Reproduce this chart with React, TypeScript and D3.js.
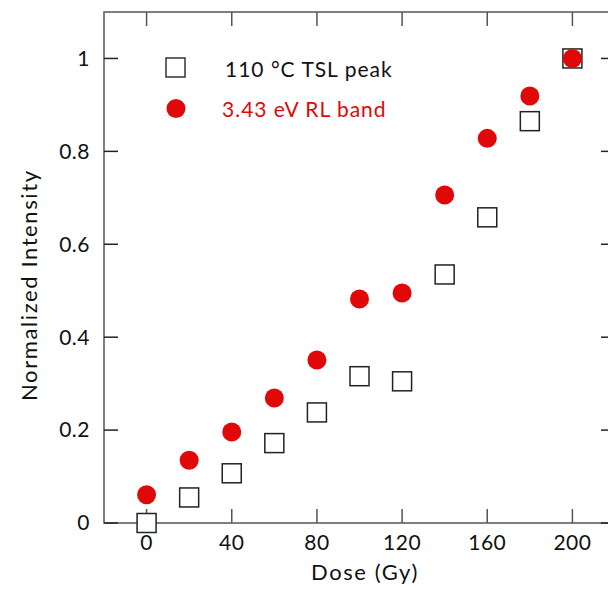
import { useRef, useEffect } from "react";
import * as d3 from "d3";

// dose values (Gy)
const doses = [0, 20, 40, 60, 80, 100, 120, 140, 160, 180, 200];
// 110 °C TSL peak, normalized
const tslPeak = [0, 0.055, 0.107, 0.172, 0.238, 0.316, 0.305, 0.535, 0.658, 0.865, 1.0];
// 3.43 eV RL band, normalized
const rlBand = [0.061, 0.135, 0.196, 0.269, 0.351, 0.482, 0.495, 0.706, 0.828, 0.919, 1.0];

const xTicks = [0, 40, 80, 120, 160, 200];
const yTicks = [0, 0.2, 0.4, 0.6, 0.8, 1];
const yTickLabels = ["0", "0.2", "0.4", "0.6", "0.8", "1"];

const RED = "#e00808";
const FONT = "Lato, 'Noto Sans', sans-serif";

function drawChart(svgEl: SVGSVGElement) {
  const width = 608,
    height = 589;
  const margin = { left: 104, right: -7, top: 12, bottom: 66 };

  const svg = d3.select(svgEl);
  svg.selectAll("*").remove();
  svg.attr("width", width).attr("height", height).attr("viewBox", `0 0 ${width} ${height}`);

  const x = d3.scaleLinear().domain([-20, 220]).range([margin.left, width - margin.right]);
  const y = d3.scaleLinear().domain([0, 1.1]).range([height - margin.bottom, margin.top]);

  const axisColor = "#555";
  const tickLen = 14;
  const g = svg.append("g");

  // frame
  g.append("rect")
    .attr("x", x(-20))
    .attr("y", y(1.1))
    .attr("width", x(220) - x(-20))
    .attr("height", y(0) - y(1.1))
    .attr("fill", "none")
    .attr("stroke", axisColor)
    .attr("stroke-width", 1.5);

  // x ticks, bottom and top, pointing inward
  xTicks.forEach((t) => {
    g.append("line")
      .attr("x1", x(t)).attr("x2", x(t))
      .attr("y1", y(0)).attr("y2", y(0) - tickLen)
      .attr("stroke", axisColor).attr("stroke-width", 1.5);
    g.append("line")
      .attr("x1", x(t)).attr("x2", x(t))
      .attr("y1", y(1.1)).attr("y2", y(1.1) + tickLen)
      .attr("stroke", axisColor).attr("stroke-width", 1.5);
    g.append("text")
      .attr("x", x(t))
      .attr("y", y(0) + 27)
      .attr("text-anchor", "middle")
      .attr("font-family", FONT)
      .attr("font-size", 21)
      .attr("letter-spacing", 0.5)
      .attr("fill", "#111")
      .text(t);
  });

  // y ticks, left and right
  yTicks.forEach((t, i) => {
    g.append("line")
      .attr("x1", x(-20)).attr("x2", x(-20) + tickLen)
      .attr("y1", y(t)).attr("y2", y(t))
      .attr("stroke", "#222").attr("stroke-width", 1.5);
    g.append("line")
      .attr("x1", x(220)).attr("x2", x(220) - tickLen)
      .attr("y1", y(t)).attr("y2", y(t))
      .attr("stroke", "#222").attr("stroke-width", 1.5);
    g.append("text")
      .attr("x", x(-20) - 14)
      .attr("y", y(t))
      .attr("dy", "0.35em")
      .attr("text-anchor", "end")
      .attr("font-family", FONT)
      .attr("font-size", 21)
      .attr("letter-spacing", 0.5)
      .attr("fill", "#111")
      .text(yTickLabels[i]);
  });

  // axis titles
  g.append("text")
    .attr("x", 365)
    .attr("y", 580)
    .attr("text-anchor", "middle")
    .attr("font-family", FONT)
    .attr("font-size", 22)
    .attr("letter-spacing", 1.6)
    .attr("fill", "#111")
    .text("Dose (Gy)");

  g.append("text")
    .attr("transform", `translate(37, ${y(0.512)}) rotate(-90)`)
    .attr("text-anchor", "middle")
    .attr("font-family", FONT)
    .attr("font-size", 22)
    .attr("letter-spacing", 1.6)
    .attr("fill", "#111")
    .text("Normalized Intensity");

  // squares
  const sq = 19;
  g.selectAll("rect.tsl")
    .data(doses)
    .join("rect")
    .attr("class", "tsl")
    .attr("x", (d) => x(d) - sq / 2)
    .attr("y", (d, i) => y(tslPeak[i]) - sq / 2)
    .attr("width", sq)
    .attr("height", sq)
    .attr("fill", "white")
    .attr("stroke", "#222")
    .attr("stroke-width", 1.5);

  // circles
  g.selectAll("circle.rl")
    .data(doses)
    .join("circle")
    .attr("class", "rl")
    .attr("cx", (d) => x(d))
    .attr("cy", (d, i) => y(rlBand[i]))
    .attr("r", 9.5)
    .attr("fill", RED);

  // legend
  const leg = g.append("g");
  leg.append("rect")
    .attr("x", 166).attr("y", 58)
    .attr("width", sq).attr("height", sq)
    .attr("fill", "white").attr("stroke", "#333").attr("stroke-width", 1.5);
  leg.append("text")
    .attr("x", 225).attr("y", 77)
    .attr("font-family", FONT).attr("font-size", 21).attr("letter-spacing", 1)
    .attr("fill", "#111")
    .text("110 °C TSL peak");
  leg.append("circle")
    .attr("cx", 176).attr("cy", 108.5).attr("r", 9.5).attr("fill", RED);
  leg.append("text")
    .attr("x", 222).attr("y", 117)
    .attr("font-family", FONT).attr("font-size", 21).attr("letter-spacing", 1)
    .attr("fill", RED)
    .text("3.43 eV RL band");
}

export default function App() {
  const svg = useRef<SVGSVGElement>(null);
  useEffect(() => {
    if (svg.current) drawChart(svg.current);
  }, []);
  return <svg ref={svg} style={{ position: "absolute", left: 0, top: 0 }} />;
}
